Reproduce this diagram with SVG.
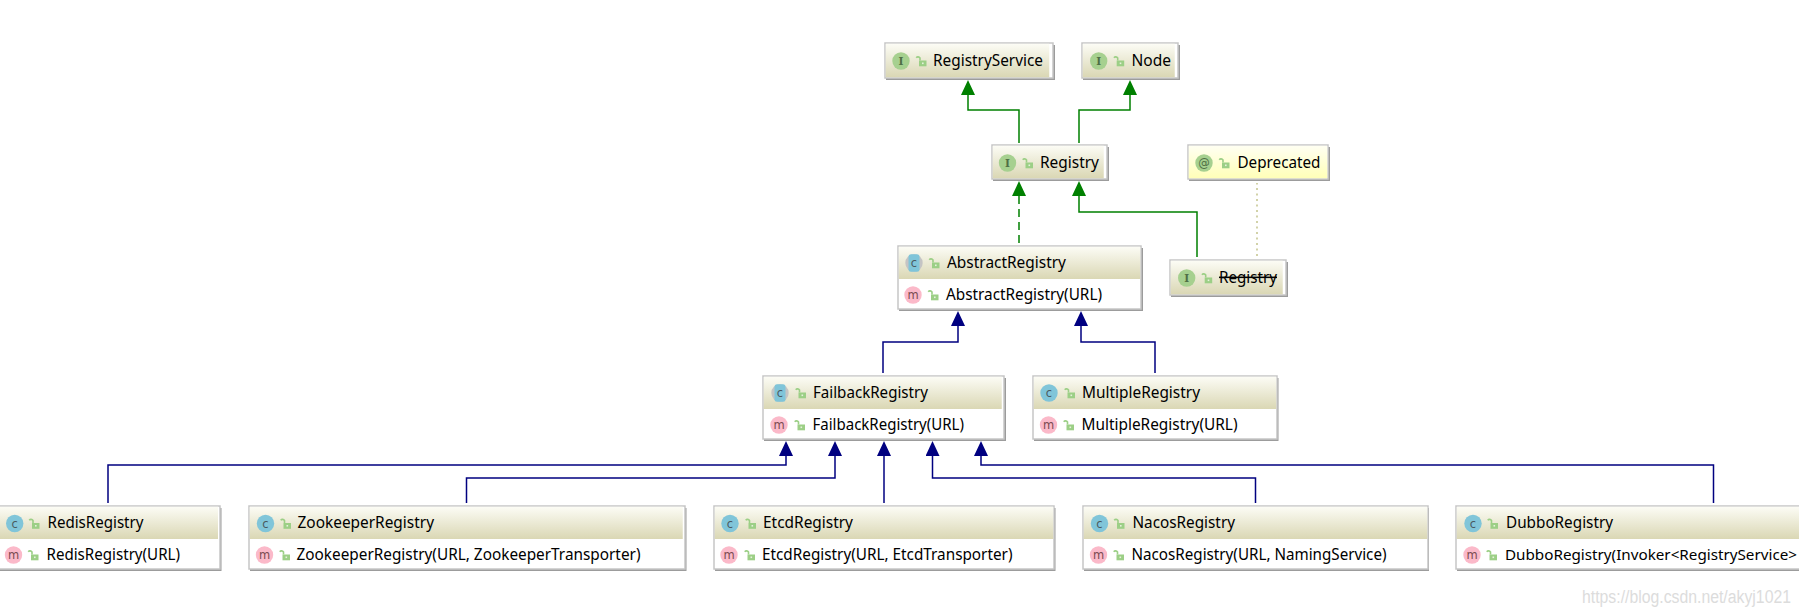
<svg xmlns="http://www.w3.org/2000/svg" width="1799" height="615" viewBox="0 0 1799 615">
<style>
.bg{fill:#ffffff}
.shadow{fill:#9c9c9c}
.box{fill:#ffffff;stroke:#c6c6c6;stroke-width:1.5}
.t{font-family:"Noto Sans","Open Sans","DejaVu Sans",sans-serif;font-size:15.5px;fill:#000000}
.t2{font-size:14.5px}
.ic{font-family:"DejaVu Sans",sans-serif;font-size:11.5px;text-anchor:middle}
.if{font-family:"DejaVu Serif",serif;font-weight:bold;font-size:10.5px;fill:#4f6f45;text-anchor:middle}
.ci{fill:#a6d08f}
.cc{fill:#80c5d9}
.cm{fill:#fbb9c9}
.cg{fill:#c4c4c4}
.ctx{fill:#4a5a60}
.mtx{fill:#7a4a50}
.gline{fill:none;stroke:#008000;stroke-width:1.5}
.bline{fill:none;stroke:#000080;stroke-width:1.5}
.strike{text-decoration:line-through}
.wm{font-family:"Liberation Sans",Arial,sans-serif;font-size:18px;fill:#dcdcdc}
</style>
<defs>
<linearGradient id="hdr" x1="0" y1="0" x2="0" y2="1"><stop offset="0" stop-color="#fcfcf5"/><stop offset="1" stop-color="#dad7b4"/></linearGradient>
<linearGradient id="ann" x1="0" y1="0" x2="0" y2="1"><stop offset="0" stop-color="#fffff2"/><stop offset="1" stop-color="#ffffb8"/></linearGradient>
<marker id="ag" viewBox="0 0 15 14" refX="0" refY="7" markerWidth="15" markerHeight="14" markerUnits="userSpaceOnUse" orient="auto"><path d="M0,0 L15,7 L0,14 Z" fill="#008000"/></marker>
<marker id="ab" viewBox="0 0 15 14" refX="0" refY="7" markerWidth="15" markerHeight="14" markerUnits="userSpaceOnUse" orient="auto"><path d="M0,0 L15,7 L0,14 Z" fill="#000080"/></marker>
<g id="lock"><path d="M-1,-0.500 V-3 A2.400,2.400 0 0 0 -4.800,-3.300" fill="none" stroke="#9ccf86" stroke-width="1.600"/><rect x="-2" y="-0.500" width="7.500" height="5.800" fill="#9ccf86"/><rect x="1" y="1.500" width="1.600" height="1.600" fill="#e6f2dc"/></g>
</defs>
<rect class="bg" x="0" y="0" width="1799" height="615"/>
<g id="connectors">
<path class="gline" d="M1019,143 V110 H968 V95" marker-end="url(#ag)"/>
<path class="gline" d="M1079,143 V110 H1130 V95" marker-end="url(#ag)"/>
<path class="gline" stroke-dasharray="8 5" d="M1019,243 V196" marker-end="url(#ag)"/>
<path class="gline" d="M1197,257 V212 H1079 V196" marker-end="url(#ag)"/>
<path d="M1257,256 V183" fill="none" stroke="#c4c48c" stroke-width="1.5" stroke-dasharray="2 3.5"/>
<path class="bline" d="M883,373 V342 H958 V326" marker-end="url(#ab)"/>
<path class="bline" d="M1155,373 V342 H1081 V326" marker-end="url(#ab)"/>
<path class="bline" d="M108,503 V465 H786 V456" marker-end="url(#ab)"/>
<path class="bline" d="M466.500,503 V478 H835 V456" marker-end="url(#ab)"/>
<path class="bline" d="M884,503 V456" marker-end="url(#ab)"/>
<path class="bline" d="M1255.500,503 V478 H932.500 V456" marker-end="url(#ab)"/>
<path class="bline" d="M1713.500,503 V465 H981 V456" marker-end="url(#ab)"/>
</g>
<g id="node-RegistryService">
<rect class="shadow" x="886" y="45" width="169" height="35"/><rect class="box" x="885" y="43" width="168" height="35"/><rect x="885.750" y="43.750" width="163.500" height="33.500" fill="url(#hdr)"/>
<circle class="ci" cx="901" cy="61" r="8.700"/><text class="if" x="901" y="65">I</text><use href="#lock" x="921" y="61"/>
<text class="t" x="933" y="66" textLength="110" lengthAdjust="spacingAndGlyphs">RegistryService</text>
</g>
<g id="node-Node">
<rect class="shadow" x="1083" y="45" width="97" height="35"/><rect class="box" x="1082" y="43" width="96" height="35"/><rect x="1082.750" y="43.750" width="92" height="33.500" fill="url(#hdr)"/>
<circle class="ci" cx="1098.700" cy="61" r="8.700"/><text class="if" x="1098.700" y="65">I</text><use href="#lock" x="1118.700" y="61"/>
<text class="t" x="1131.500" y="66" textLength="39.500" lengthAdjust="spacingAndGlyphs">Node</text>
</g>
<g id="node-Registry">
<rect class="shadow" x="993" y="147" width="116" height="34"/><rect class="box" x="992" y="145" width="115" height="34"/><rect x="992.750" y="145.750" width="111" height="32.500" fill="url(#hdr)"/>
<circle class="ci" cx="1007.500" cy="163" r="8.700"/><text class="if" x="1007.500" y="167">I</text><use href="#lock" x="1027.500" y="163"/>
<text class="t" x="1040" y="168" textLength="59" lengthAdjust="spacingAndGlyphs">Registry</text>
</g>
<g id="node-Deprecated">
<rect class="shadow" x="1189" y="147" width="141" height="34"/><rect class="box" x="1188" y="145" width="140" height="34"/><rect x="1188.750" y="145.750" width="138.500" height="32.500" fill="url(#ann)"/>
<circle class="ci" cx="1204" cy="163" r="8.700"/><text class="ic" x="1204" y="167" fill="#4f6f45">@</text><use href="#lock" x="1224" y="163"/>
<text class="t" x="1237.500" y="168" textLength="83" lengthAdjust="spacingAndGlyphs">Deprecated</text>
</g>
<g id="node-Registry-deprecated">
<rect class="shadow" x="1171" y="262" width="117" height="35"/><rect class="box" x="1170" y="260" width="116" height="35"/><rect x="1170.750" y="260.750" width="112" height="33.500" fill="url(#hdr)"/>
<circle class="ci" cx="1186.700" cy="278" r="8.700"/><text class="if" x="1186.700" y="282">I</text><use href="#lock" x="1206.700" y="278"/>
<text class="t strike" x="1219" y="283" textLength="58" lengthAdjust="spacingAndGlyphs">Registry</text>
</g>
<g id="node-AbstractRegistry">
<rect class="shadow" x="899" y="248" width="244" height="63"/><rect class="box" x="898" y="246" width="243" height="63"/><rect x="898.750" y="246.750" width="241.500" height="32.250" fill="url(#hdr)"/>
<circle class="cg" cx="914" cy="263" r="8.700"/><rect class="cc" x="908.500" y="254.300" width="11" height="17.400" rx="2.500"/><text class="ic ctx" x="914" y="267">c</text><use href="#lock" x="934" y="263"/>
<text class="t" x="947" y="268" textLength="119" lengthAdjust="spacingAndGlyphs">AbstractRegistry</text>
<circle class="cm" cx="913" cy="295" r="8.700"/><text class="ic mtx" x="913" y="299">m</text><use href="#lock" x="933" y="295"/>
<text class="t" x="946" y="300" textLength="156" lengthAdjust="spacingAndGlyphs">AbstractRegistry(URL)</text>
</g>
<g id="node-FailbackRegistry">
<rect class="shadow" x="764" y="378" width="242" height="63"/><rect class="box" x="763" y="376" width="241" height="63"/><rect x="763.750" y="376.750" width="238" height="32.250" fill="url(#hdr)"/>
<circle class="cg" cx="780" cy="393" r="8.700"/><rect class="cc" x="774.500" y="384.300" width="11" height="17.400" rx="2.500"/><text class="ic ctx" x="780" y="397">c</text><use href="#lock" x="800.500" y="393"/>
<text class="t" x="813" y="398" textLength="115" lengthAdjust="spacingAndGlyphs">FailbackRegistry</text>
<circle class="cm" cx="779" cy="425" r="8.700"/><text class="ic mtx" x="779" y="429">m</text><use href="#lock" x="799.500" y="425"/>
<text class="t" x="812.500" y="430" textLength="151.500" lengthAdjust="spacingAndGlyphs">FailbackRegistry(URL)</text>
</g>
<g id="node-MultipleRegistry">
<rect class="shadow" x="1034" y="378" width="244.500" height="63"/><rect class="box" x="1033" y="376" width="244" height="63"/><rect x="1033.750" y="376.750" width="242.500" height="32.250" fill="url(#hdr)"/>
<circle class="cc" cx="1049" cy="393" r="8.700"/><text class="ic ctx" x="1049" y="397">c</text><use href="#lock" x="1069.500" y="393"/>
<text class="t" x="1082" y="398" textLength="118" lengthAdjust="spacingAndGlyphs">MultipleRegistry</text>
<circle class="cm" cx="1048.500" cy="425" r="8.700"/><text class="ic mtx" x="1048.500" y="429">m</text><use href="#lock" x="1068.500" y="425"/>
<text class="t" x="1081.500" y="430" textLength="156" lengthAdjust="spacingAndGlyphs">MultipleRegistry(URL)</text>
</g>
<g id="node-RedisRegistry">
<rect class="shadow" x="-9" y="508" width="230.500" height="63"/><rect class="box" x="-10" y="506" width="230" height="63"/><rect x="-10" y="506.750" width="228" height="32.250" fill="url(#hdr)"/>
<circle class="cc" cx="14.700" cy="523.500" r="8.700"/><text class="ic ctx" x="14.700" y="527.500">c</text><use href="#lock" x="34" y="523.500"/>
<text class="t" x="47.500" y="528" textLength="96" lengthAdjust="spacingAndGlyphs">RedisRegistry</text>
<circle class="cm" cx="13.500" cy="555" r="8.700"/><text class="ic mtx" x="13.500" y="559">m</text><use href="#lock" x="33" y="555"/>
<text class="t" x="46.500" y="560" textLength="133.500" lengthAdjust="spacingAndGlyphs">RedisRegistry(URL)</text>
</g>
<g id="node-ZookeeperRegistry">
<rect class="shadow" x="250" y="508" width="436.500" height="63"/><rect class="box" x="249" y="506" width="436" height="63"/><rect x="249.750" y="506.750" width="433" height="32.250" fill="url(#hdr)"/>
<circle class="cc" cx="265.500" cy="523.500" r="8.700"/><text class="ic ctx" x="265.500" y="527.500">c</text><use href="#lock" x="285.500" y="523.500"/>
<text class="t" x="297.500" y="528" textLength="136.500" lengthAdjust="spacingAndGlyphs">ZookeeperRegistry</text>
<circle class="cm" cx="264.500" cy="555" r="8.700"/><text class="ic mtx" x="264.500" y="559">m</text><use href="#lock" x="284.500" y="555"/>
<text class="t" x="296.500" y="560" textLength="344" lengthAdjust="spacingAndGlyphs">ZookeeperRegistry(URL, ZookeeperTransporter)</text>
</g>
<g id="node-EtcdRegistry">
<rect class="shadow" x="715" y="508" width="340.500" height="63"/><rect class="box" x="714" y="506" width="340" height="63"/><rect x="714.750" y="506.750" width="338.500" height="32.250" fill="url(#hdr)"/>
<circle class="cc" cx="730" cy="523.500" r="8.700"/><text class="ic ctx" x="730" y="527.500">c</text><use href="#lock" x="750.500" y="523.500"/>
<text class="t" x="763" y="528" textLength="90" lengthAdjust="spacingAndGlyphs">EtcdRegistry</text>
<circle class="cm" cx="729" cy="555" r="8.700"/><text class="ic mtx" x="729" y="559">m</text><use href="#lock" x="749.500" y="555"/>
<text class="t" x="762" y="560" textLength="250.500" lengthAdjust="spacingAndGlyphs">EtcdRegistry(URL, EtcdTransporter)</text>
</g>
<g id="node-NacosRegistry">
<rect class="shadow" x="1084" y="508" width="345" height="63"/><rect class="box" x="1083" y="506" width="345" height="63"/><rect x="1083.750" y="506.750" width="343.500" height="32.250" fill="url(#hdr)"/>
<circle class="cc" cx="1099.500" cy="523.500" r="8.700"/><text class="ic ctx" x="1099.500" y="527.500">c</text><use href="#lock" x="1119" y="523.500"/>
<text class="t" x="1132.500" y="528" textLength="102.500" lengthAdjust="spacingAndGlyphs">NacosRegistry</text>
<circle class="cm" cx="1098.500" cy="555" r="8.700"/><text class="ic mtx" x="1098.500" y="559">m</text><use href="#lock" x="1118.500" y="555"/>
<text class="t" x="1131.500" y="560" textLength="255" lengthAdjust="spacingAndGlyphs">NacosRegistry(URL, NamingService)</text>
</g>
<g id="node-DubboRegistry">
<rect class="shadow" x="1457" y="508" width="360" height="63"/><rect class="box" x="1456" y="506" width="360" height="63"/><rect x="1456.750" y="506.750" width="359" height="32.250" fill="url(#hdr)"/>
<circle class="cc" cx="1473" cy="523.500" r="8.700"/><text class="ic ctx" x="1473" y="527.500">c</text><use href="#lock" x="1492.500" y="523.500"/>
<text class="t" x="1506" y="528" textLength="107" lengthAdjust="spacingAndGlyphs">DubboRegistry</text>
<circle class="cm" cx="1472" cy="555" r="8.700"/><text class="ic mtx" x="1472" y="559">m</text><use href="#lock" x="1491.500" y="555"/>
<text class="t t2" x="1505" y="560" textLength="292" lengthAdjust="spacingAndGlyphs">DubboRegistry(Invoker&lt;RegistryService&gt;</text>
</g>
<text class="wm" x="1582" y="603" textLength="209" lengthAdjust="spacingAndGlyphs">https://blog.csdn.net/akyj1021</text>
</svg>
